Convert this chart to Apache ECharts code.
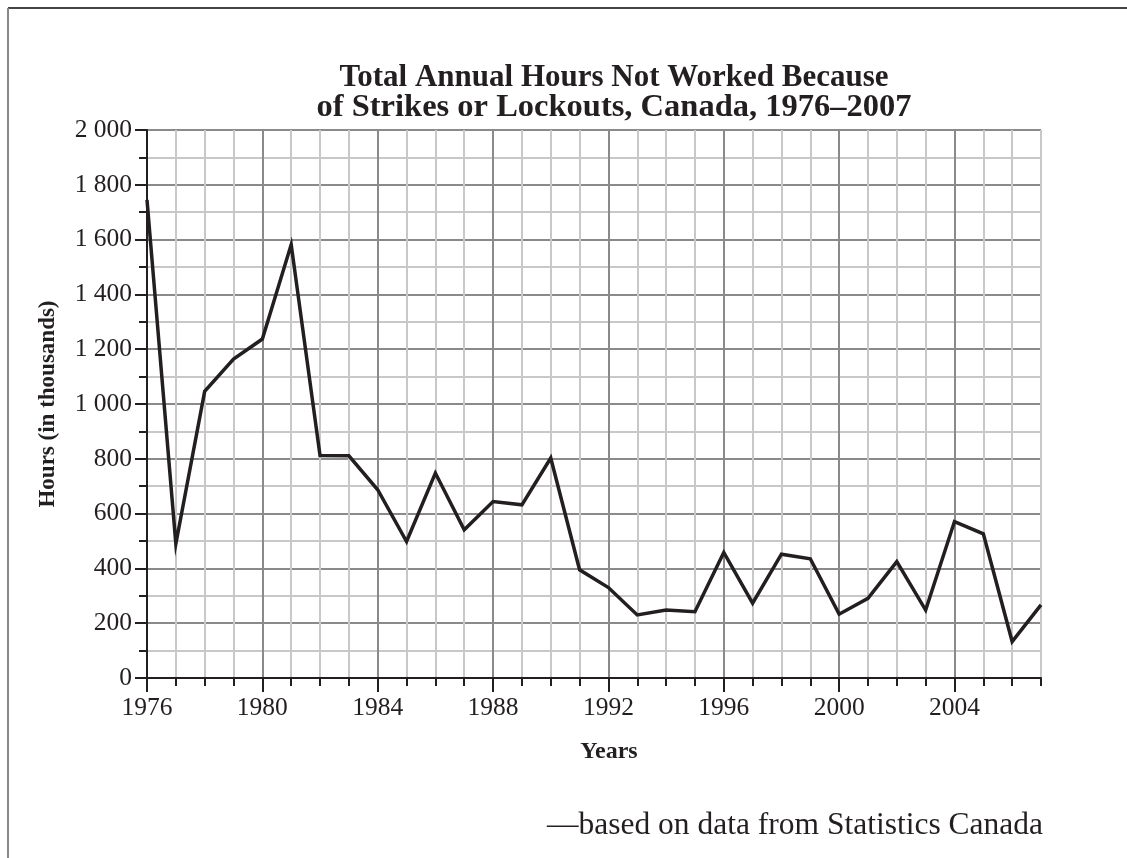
<!DOCTYPE html>
<html><head><meta charset="utf-8">
<script src="https://cdn.jsdelivr.net/npm/echarts@6/dist/echarts.min.js"></script>
<style>html,body{margin:0;padding:0;background:#fff}#c{width:1127px;height:858px}</style>
</head><body><div id="c"></div>
<script>
const years = [1976,1977,1978,1979,1980,1981,1982,1983,1984,1985,1986,1987,1988,1989,1990,1991,1992,1993,1994,1995,1996,1997,1998,1999,2000,2001,2002,2003,2004,2005,2006,2007];
const hours = [1745,490,1046,1164,1237,1582,812,811,687,498,748,541,644,632,803,395,330,230,248,242,458,273,452,435,233,291,425,248,571,526,133,267];
const xTickLabels = ['1976','1980','1984','1988','1992','1996','2000','2004'];
const yTickLabels = ['0','200','400','600','800','1 000','1 200','1 400','1 600','1 800','2 000'];
const titleLine1 = 'Total Annual Hours Not Worked Because';
const titleLine2 = 'of Strikes or Lockouts, Canada, 1976\u20132007';
const yName = 'Hours (in thousands)';
const xName = 'Years';
const sourceText = '\u2014based on data from Statistics Canada';

const INK = '#231f20', LIGHT = '#c8c8c8', DARK = '#8a8a8a';
const FONT = 'Liberation Serif';
const chart = echarts.init(document.getElementById('c'), null, {renderer: 'canvas'});
const plotL = 147, plotR = 1041;
const yearW = (plotR - plotL) / (years[years.length-1] - years[0]);
const g1Right = 1127 - (plotL + yearW * (2004 - 1976));

chart.setOption({
  animation: false,
  backgroundColor: '#fff',
  title: {
    text: '{a|' + titleLine1 + '}\n{b|' + titleLine2 + '}', left: 609, top: 58, textAlign: 'center',
    textStyle: {
      fontFamily: FONT, fontWeight: 'bold', color: INK,
      rich: {
        a: {fontFamily: FONT, fontWeight: 'bold', fontSize: 31, lineHeight: 30, color: INK},
        b: {fontFamily: FONT, fontWeight: 'bold', fontSize: 32.5, lineHeight: 30, color: INK}
      }
    }
  },
  grid: [
    {left: plotL, right: 1127 - plotR, top: 130, bottom: 180},
    {left: plotL, right: g1Right, top: 130, bottom: 180}
  ],
  xAxis: [
    {gridIndex: 0, type: 'value', min: 1976, max: 2007, interval: 1,
     axisLine: {show: true, onZero: false, lineStyle: {color: INK, width: 2}},
     axisTick: {show: true, length: 8, lineStyle: {color: INK, width: 2}},
     axisLabel: {show: false},
     splitLine: {show: true, lineStyle: {color: LIGHT, width: 2}},
     name: xName, nameLocation: 'middle', nameGap: 62,
     nameTextStyle: {fontFamily: FONT, fontWeight: 'bold', fontSize: 24, color: INK, padding: [0,0,0,30]}},
    {gridIndex: 1, type: 'value', min: 1976, max: 2004, interval: 4,
     axisLine: {show: false, onZero: false},
     axisTick: {show: true, length: 14, lineStyle: {color: INK, width: 2}},
     axisLabel: {show: true, margin: 17, fontFamily: FONT, fontSize: 25.5, color: INK,
       formatter: v => xTickLabels[Math.round((v - 1976) / 4)] || ''},
     splitLine: {show: true, lineStyle: {color: DARK, width: 2}}}
  ],
  yAxis: [
    {gridIndex: 0, type: 'value', min: 0, max: 2000, interval: 100, position: 'left',
     axisLine: {show: true, onZero: false, lineStyle: {color: INK, width: 2}},
     axisTick: {show: true, length: 8, lineStyle: {color: INK, width: 2}},
     axisLabel: {show: false},
     splitLine: {show: true, lineStyle: {color: LIGHT, width: 2}}},
    {gridIndex: 0, type: 'value', min: 0, max: 2000, interval: 200, position: 'left',
     axisLine: {show: false, onZero: false},
     axisTick: {show: true, length: 12, lineStyle: {color: INK, width: 2}},
     axisLabel: {show: true, margin: 15, fontFamily: FONT, fontSize: 25.5, color: INK,
       formatter: v => yTickLabels[Math.round(v / 200)]},
     splitLine: {show: true, lineStyle: {color: DARK, width: 2}},
     name: yName, nameLocation: 'middle', nameGap: 87,
     nameTextStyle: {fontFamily: FONT, fontWeight: 'bold', fontSize: 23, color: INK}},
    {gridIndex: 1, type: 'value', min: 0, max: 2000, show: false}
  ],
  series: [{
    type: 'line', xAxisIndex: 0, yAxisIndex: 0, symbol: 'none', z: 10,
    lineStyle: {color: INK, width: 3.5, join: 'miter'},
    data: years.map((y, i) => [y, hours[i]])
  }],
  graphic: [
    {type: 'line', shape: {x1: 8, y1: 8, x2: 1127, y2: 8}, style: {stroke: '#444', lineWidth: 2}},
    {type: 'line', shape: {x1: 8, y1: 8, x2: 8, y2: 858}, style: {stroke: '#888', lineWidth: 2}},
    {type: 'text', x: 1043, y: 826,
     style: {text: sourceText, font: '31.5px "Liberation Serif"', fill: INK, textAlign: 'right', textVerticalAlign: 'middle'}}
  ]
});
</script></body></html>
